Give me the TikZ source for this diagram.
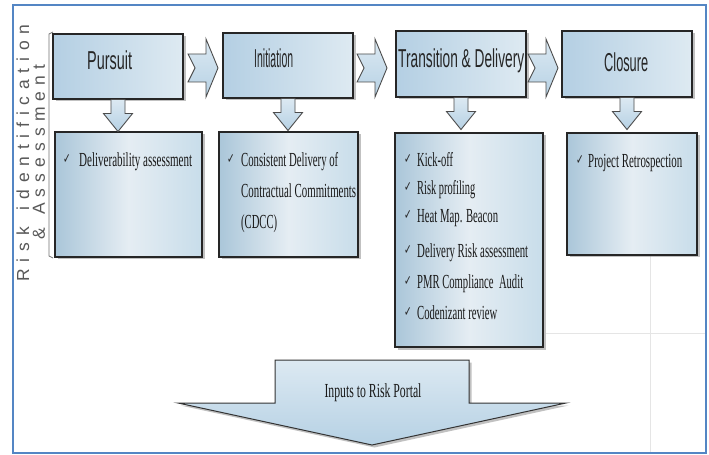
\documentclass[tikz,border=0pt]{standalone}
\usepackage{fontspec}
\usepackage{graphicx}
\setmainfont{Liberation Serif}
\newfontfamily\headfont{Liberation Sans}
\newfontfamily\tickfont{DejaVu Sans}
\usetikzlibrary{shadows}

\definecolor{frameblue}{RGB}{84,134,196}
\definecolor{topL}{RGB}{180,207,227}
\definecolor{topR}{RGB}{222,234,242}
\definecolor{lowL}{RGB}{170,198,217}
\definecolor{lowM}{RGB}{229,237,243}
\definecolor{lowR}{RGB}{200,221,234}
\definecolor{arrT}{RGB}{220,233,242}
\definecolor{arrB}{RGB}{182,209,228}

% stretch or squeeze a text horizontally to a given width
\newcommand\fitto[2]{\resizebox{#1}{\height}{#2}}
\newcommand\tickmark{\scalebox{0.65}[1]{✓}}

% letter-spaced word: gap after every letter but the last
\ExplSyntaxOn
\NewDocumentCommand\spreadword{m m}
  { \tl_map_inline:nn {#2} { ##1 \hspace{#1} } \hspace{-#1} }
\ExplSyntaxOff

\begin{document}
\begin{tikzpicture}[x=1bp,y=-1bp,
  shadowed/.style={drop shadow={shadow xshift=2.5bp, shadow yshift=-2.5bp, opacity=.4, fill=black!60}},
  topbox/.style={draw=black!85, line width=1.1bp, left color=topL, right color=topR,
    minimum width=130bp, inner sep=0, shadowed},
  lowbox/.style={draw=black!85, line width=1.1bp, left color=lowL, right color=lowR,
    middle color=lowM, inner sep=0, shadowed},
  blockarrow/.style={draw=black!70, line width=0.9bp, top color=arrT, bottom color=arrB, line join=miter},
  bigarrow/.style={draw=black!80, line width=1bp, top color=arrT, bottom color=arrB, line join=miter, shadowed},
  headtxt/.style={font=\headfont\fontsize{26}{26}\selectfont, text=black!85, inner sep=0, anchor=base west},
  itemtxt/.style={font=\fontsize{20}{20}\selectfont, text=black!90, inner sep=0, anchor=base west},
  ticktxt/.style={font=\tickfont\fontsize{14}{14}\selectfont, text=black!85, inner sep=0, anchor=base west},
  sidetxt/.style={font=\headfont\fontsize{17.5}{17.5}\selectfont, text=black!65, inner sep=0, rotate=90},
  rarrow/.pic={\path[blockarrow] (0,-14) -- (18,-14) -- (18,-29) -- (30,0) -- (18,29) -- (18,14) -- (0,14) -- (7,0) -- cycle;},
  darrow/.pic={\path[blockarrow] (-7,0) -- (7,0) -- (7,14) -- (14.5,14) -- (0,32) -- (-14.5,14) -- (-7,14) -- cycle;}
]
\useasboundingbox (0,0) rectangle (709,455);
\fill[white] (0,0) rectangle (709,455);

% faint ruling of the page behind the chart
\draw[black!10, line width=0.6bp] (650,256) -- (650,452);
\draw[black!10, line width=0.6bp] (546,333) -- (705,333);

% outer frame
\draw[frameblue, line width=1.5bp] (13,5) rectangle (706,453);

% side label and bracket
\node[sidetxt] (lab1) at (23,153)
  {\fitto{257bp}{\spreadword{6.8bp}{Risk}\hspace{17bp}\spreadword{6.8bp}{identification}}};
\node[sidetxt] (lab2) at (39,152)
  {\fitto{175bp}{\spreadword{6.1bp}{\&}\hspace{13bp}\spreadword{6.1bp}{Assessment}}};
\draw[black!55, line width=0.8bp] (53,32) -- (49,34) -- (49,256) -- (53,258);

% phase boxes
\node[topbox, minimum height=65bp] (pursuit) at (118,66.5) {};
\node[topbox, minimum height=65bp] (init) at (288,65.5) {};
\node[topbox, minimum height=66bp] (trans) at (461,64) {};
\node[topbox, minimum height=66bp] (closure) at (627,64) {};

% activity boxes
\node[lowbox, minimum width=147bp, minimum height=125bp] (lpursuit) at (128.5,194.5) {};
\node[lowbox, minimum width=139bp, minimum height=125bp] (linit) at (288.5,194.5) {};
\node[lowbox, minimum width=148bp, minimum height=214bp] (ltrans) at (469,240) {};
\node[lowbox, minimum width=130bp, minimum height=122bp] (lclosure) at (632,194) {};

% arrows between phases
\pic at (188,68) {rarrow};
\pic at (357,68) {rarrow};
\pic at (528,68) {rarrow};

% arrows from phases to activities
\pic at (pursuit.south) {darrow};
\pic at (init.south) {darrow};
\pic at (trans.south) {darrow};
\pic at (closure.south) {darrow};

% phase titles
\node[headtxt] (tpursuit) at (87,70) {\fitto{45bp}{Pursuit}};
\node[headtxt] (tinit) at (254,68) {\fitto{39bp}{Initiation}};
\node[headtxt] (ttrans) at (398,68) {\fitto{126bp}{Transition \& Delivery}};
\node[headtxt] (tclosure) at (604,72) {\fitto{44bp}{Closure}};

% activities
\node[ticktxt] (k1) at (63,164) {\tickmark};
\node[itemtxt] (a1) at (79,167) {\fitto{113bp}{Deliverability assessment}};

\node[ticktxt] (k2) at (227,164) {\tickmark};
\node[itemtxt] (b1) at (241,167) {\fitto{97bp}{Consistent Delivery of}};
\node[itemtxt] (b2) at (241,198) {\fitto{115bp}{Contractual Commitments}};
\node[itemtxt] (b3) at (241,229) {\fitto{36bp}{(CDCC)}};

\node[ticktxt] (k3) at (404,164) {\tickmark};
\node[itemtxt] (c1) at (417,167) {\fitto{36bp}{Kick-off}};
\node[ticktxt] (k4) at (404,192) {\tickmark};
\node[itemtxt] (c2) at (417,195) {\fitto{58bp}{Risk profiling}};
\node[ticktxt] (k5) at (404,220) {\tickmark};
\node[itemtxt] (c3) at (417,223) {\fitto{81bp}{Heat Map. Beacon}};
\node[ticktxt] (k6) at (404,255) {\tickmark};
\node[itemtxt] (c4) at (417,258) {\fitto{111bp}{Delivery Risk assessment}};
\node[ticktxt] (k7) at (404,286) {\tickmark};
\node[itemtxt] (c5) at (417,289) {\fitto{106bp}{PMR Compliance\ \ Audit}};
\node[ticktxt] (k8) at (404,317) {\tickmark};
\node[itemtxt] (c6) at (417,320) {\fitto{80bp}{Codenizant review}};

\node[ticktxt] (k9) at (576,165) {\tickmark};
\node[itemtxt] (d1) at (588,168) {\fitto{94bp}{Project Retrospection}};

% output arrow
\path[bigarrow] (275,360) -- (469,360) -- (469,403) -- (566,403) -- (372,445)
  -- (178,403) -- (275,403) -- cycle;
\node[itemtxt, anchor=base] (portal) at (373,397) {\fitto{97bp}{Inputs to Risk Portal}};
\end{tikzpicture}
\end{document}
